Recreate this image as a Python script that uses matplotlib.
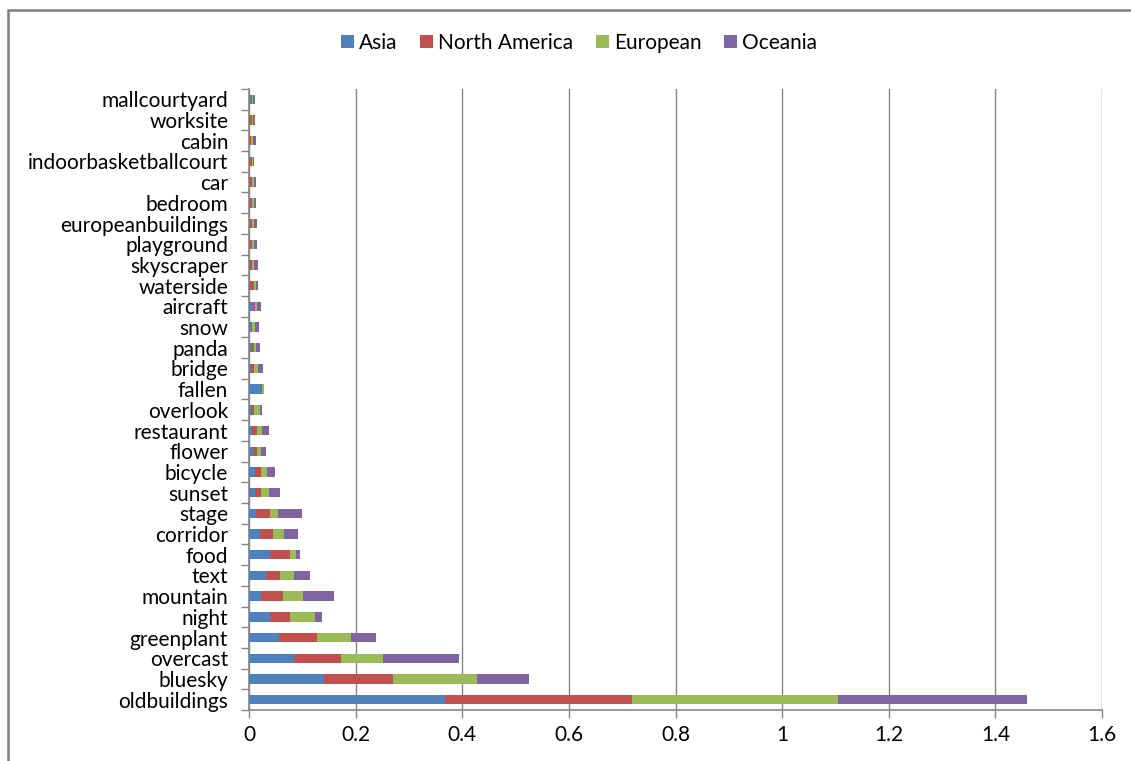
import matplotlib
matplotlib.use("Agg")
import matplotlib.pyplot as plt
from matplotlib.patches import Rectangle
import numpy as np

categories = ["oldbuildings", "bluesky", "overcast", "greenplant", "night", "mountain",
              "text", "food", "corridor", "stage", "sunset", "bicycle", "flower",
              "restaurant", "overlook", "fallen", "bridge", "panda", "snow", "aircraft",
              "waterside", "skyscraper", "playground", "europeanbuildings", "bedroom",
              "car", "indoorbasketballcourt", "cabin", "worksite", "mallcourtyard"]

asia = [0.367, 0.141, 0.084, 0.056, 0.040, 0.023, 0.031, 0.040, 0.021, 0.013, 0.011, 0.011, 0.0075,
        0.006, 0.004, 0.0225, 0.004, 0.006, 0.004, 0.009, 0.002, 0.001, 0.0025, 0.0025, 0.0025,
        0.002, 0.001, 0.002, 0.001, 0.004]
north_america = [0.351, 0.129, 0.088, 0.072, 0.036, 0.041, 0.027, 0.036, 0.024, 0.027, 0.0115, 0.0115, 0.0081,
                 0.009, 0.006, 0.0025, 0.006, 0.003, 0.002, 0.002, 0.007, 0.005, 0.0035, 0.0025, 0.0035,
                 0.0036, 0.004, 0.002, 0.004, 0.001]
european = [0.386, 0.158, 0.080, 0.063, 0.048, 0.037, 0.026, 0.012, 0.020, 0.014, 0.0155, 0.0115, 0.0069,
            0.010, 0.010, 0.0025, 0.0075, 0.0035, 0.005, 0.004, 0.0035, 0.003, 0.004, 0.005, 0.003,
            0.0038, 0.0025, 0.0035, 0.0025, 0.0025]
oceania = [0.356, 0.098, 0.141, 0.047, 0.012, 0.058, 0.031, 0.008, 0.027, 0.045, 0.021, 0.015, 0.0085,
           0.012, 0.005, 0.0015, 0.0085, 0.0085, 0.008, 0.008, 0.0045, 0.008, 0.005, 0.005, 0.0035,
           0.0031, 0.0015, 0.005, 0.0031, 0.0031]

series = [("Asia", asia, "#4F81BD"), ("North America", north_america, "#C0504D"),
          ("European", european, "#9BBB59"), ("Oceania", oceania, "#8064A2")]
xticks = [0, 0.2, 0.4, 0.6, 0.8, 1, 1.2, 1.4, 1.6]
xticklabels = ["0", "0.2", "0.4", "0.6", "0.8", "1", "1.2", "1.4", "1.6"]

plt.rcParams['font.family'] = ['Lato', 'DejaVu Sans']

fig = plt.figure(figsize=(11.31, 7.61), dpi=100)
ax = fig.add_axes([249/1131, 1-710/761, (1102-249)/1131, (710-89)/761])

y = np.arange(len(categories))
left = np.zeros(len(categories))
for name, vals, col in series:
    v = np.array(vals)
    ax.barh(y, v, left=left, height=0.45, color=col, label=name, zorder=3)
    left += v

ax.set_xlim(0, 1.6)
ax.set_ylim(-0.5, len(categories) - 0.5)
ax.set_xticks(xticks)
ax.set_xticklabels(xticklabels, fontsize=15)
ax.set_yticks(y)
ax.set_yticklabels(categories, fontsize=15)
ax.set_yticks(np.arange(-0.5, len(categories)), minor=True)
ax.tick_params(axis='y', which='major', length=0, pad=15)
ax.tick_params(axis='y', which='minor', length=6, color='#868686', width=1)
ax.tick_params(axis='x', which='major', length=6, color='#868686', width=1, pad=5)
ax.grid(axis='x', color='#868686', linewidth=1, zorder=0)
for s in ['top', 'right']:
    ax.spines[s].set_visible(False)
for s in ['left', 'bottom']:
    ax.spines[s].set_color('#868686')
    ax.spines[s].set_linewidth(1.2)

fig.legend(loc='center', bbox_to_anchor=(0.512, 1-43/761), ncol=4, frameon=False,
           fontsize=15, handlelength=0.6, handleheight=0.6, handletextpad=0.25,
           columnspacing=1.1)

fig.patches.append(Rectangle((8/1131, -0.05), 1.1, 1.05 - 10/761, transform=fig.transFigure,
                             fill=False, edgecolor='#7f7f7f', linewidth=1.8))

fig.savefig("out.png", dpi=100)
